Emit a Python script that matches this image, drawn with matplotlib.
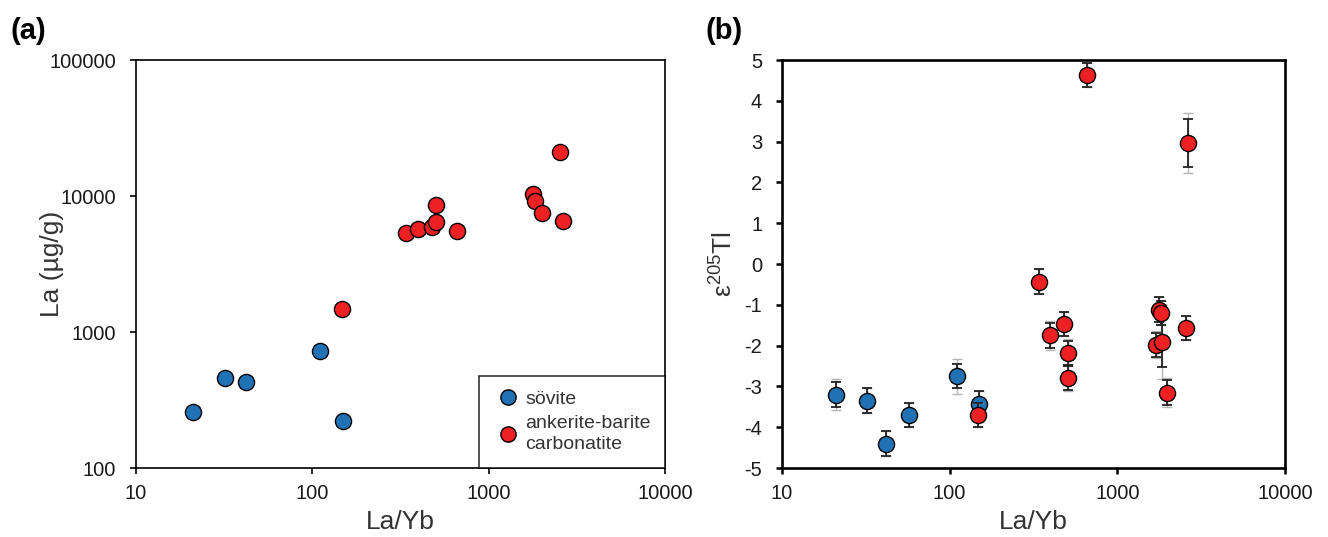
import matplotlib
matplotlib.use("Agg")
import matplotlib.pyplot as plt
from matplotlib.lines import Line2D

plt.rcParams['font.family'] = ['Liberation Sans', 'DejaVu Sans']
plt.rcParams['axes.unicode_minus'] = False
plt.rcParams['mathtext.fontset'] = 'custom'
plt.rcParams['mathtext.rm'] = 'Liberation Sans'
plt.rcParams['mathtext.default'] = 'regular'

BLUE = '#2171b5'
RED = '#ed2024'

# ---- Panel (a) data ----
a_sov_layb = [21, 32, 42, 110, 150]
a_sov_la = [260, 458, 428, 720, 220]
a_ank_layb = [148, 340, 395, 475, 500, 500, 660, 1780, 1840, 2000, 2550, 2650]
a_ank_la = [1480, 5350, 5750, 5900, 6400, 8600, 5550, 10300, 9200, 7500, 21000, 6500]

# ---- Panel (b) data ----
b_sov_layb = [21, 32, 42, 57, 110, 150]
b_sov_eps = [-3.20, -3.35, -4.40, -3.70, -2.75, -3.42]
b_sov_err = [0.30, 0.30, 0.30, 0.30, 0.30, 0.30]
b_sov_err2 = [0.37, 0.30, 0.30, 0.30, 0.43, 0.30]

b_ank_layb = [148, 340, 397, 479, 507, 507, 662, 1700, 1775, 1810, 1845, 1982, 2553, 2630]
b_ank_eps = [-3.70, -0.43, -1.75, -1.47, -2.18, -2.79, 4.63, -1.98, -1.12, -1.20, -1.91, -3.15, -1.57, 2.96]
b_ank_err = [0.30, 0.31, 0.30, 0.30, 0.30, 0.30, 0.30, 0.30, 0.30, 0.30, 0.62, 0.30, 0.30, 0.59]
b_ank_err2 = [0.30, 0.31, 0.35, 0.30, 0.33, 0.33, 0.30, 0.33, 0.30, 0.30, 0.92, 0.35, 0.30, 0.73]

x_ticks = [10, 100, 1000, 10000]
x_ticklabels = ['10', '100', '1000', '10000']
a_y_ticks = [100, 1000, 10000, 100000]
a_y_ticklabels = ['100', '1000', '10000', '100000']
b_y_ticks = list(range(-5, 6))

fig = plt.figure(figsize=(13.28, 5.37), dpi=100)
axa = fig.add_axes([136/1328, 69/537, 529/1328, 408/537])
axb = fig.add_axes([782/1328, 69/537, 503/1328, 408/537])

MS = 135
TICKFS = 14.5
LABFS = 19


def style_ticks(ax, width):
    ax.tick_params(axis='both', direction='out', length=4.3, width=width,
                   labelsize=TICKFS, labelcolor='#1a1a1a')
    ax.tick_params(axis='x', pad=7.5)
    ax.tick_params(axis='y', pad=10)


# Panel a
axa.scatter(a_sov_layb, a_sov_la, s=MS, c=BLUE, edgecolors='black', linewidths=1.0, zorder=3)
axa.scatter(a_ank_layb, a_ank_la, s=MS, c=RED, edgecolors='black', linewidths=1.0, zorder=4)
axa.set_xscale('log')
axa.set_yscale('log')
axa.set_xlim(10, 10000)
axa.set_ylim(100, 100000)
axa.set_xticks(x_ticks)
axa.set_xticklabels(x_ticklabels)
axa.set_yticks(a_y_ticks)
axa.set_yticklabels(a_y_ticklabels)
axa.minorticks_off()
axa.set_xlabel('La/Yb', fontsize=LABFS, color='#333333', labelpad=5)
axa.set_ylabel('La (µg/g)', fontsize=LABFS, color='#333333')
axa.yaxis.set_label_coords(-0.137, 0.5)
for sp in axa.spines.values():
    sp.set_linewidth(1.2)
style_ticks(axa, 1.2)

handles = [Line2D([], [], marker='o', ls='none', markersize=11, markerfacecolor=BLUE, markeredgecolor='black', markeredgewidth=1.0),
           Line2D([], [], marker='o', ls='none', markersize=11, markerfacecolor=RED, markeredgecolor='black', markeredgewidth=1.0)]
leg = axa.legend(handles, ['sövite', 'ankerite-barite\ncarbonatite'], loc='lower right',
                 bbox_to_anchor=(1.0, 0.0), borderaxespad=0, fontsize=14, frameon=True,
                 fancybox=False, edgecolor='black', handletextpad=0.12, borderpad=0.75,
                 labelspacing=0.35, handlelength=1.5)
leg.get_frame().set_linewidth(1.2)
for t in leg.get_texts():
    t.set_color('#333333')
    t.set_linespacing(1.35)

# Panel b
axb.errorbar(b_sov_layb, b_sov_eps, yerr=b_sov_err2, fmt='none', ecolor='#b5b5b5', elinewidth=1.0, capsize=3.5, capthick=1.0, zorder=1)
axb.errorbar(b_sov_layb, b_sov_eps, yerr=b_sov_err, fmt='none', ecolor='#222222', elinewidth=1.3, capsize=3.5, capthick=1.3, zorder=2)
axb.scatter(b_sov_layb, b_sov_eps, s=MS, c=BLUE, edgecolors='black', linewidths=1.0, zorder=3)
axb.errorbar(b_ank_layb, b_ank_eps, yerr=b_ank_err2, fmt='none', ecolor='#b5b5b5', elinewidth=1.0, capsize=3.5, capthick=1.0, zorder=3.5)
axb.errorbar(b_ank_layb, b_ank_eps, yerr=b_ank_err, fmt='none', ecolor='#222222', elinewidth=1.3, capsize=3.5, capthick=1.3, zorder=4)
axb.scatter(b_ank_layb, b_ank_eps, s=MS, c=RED, edgecolors='black', linewidths=1.0, zorder=5)
axb.set_xscale('log')
axb.set_xlim(10, 10000)
axb.set_ylim(-5, 5)
axb.set_xticks(x_ticks)
axb.set_xticklabels(x_ticklabels)
axb.set_yticks(b_y_ticks)
axb.minorticks_off()
axb.set_xlabel('La/Yb', fontsize=LABFS, color='#333333', labelpad=5)
axb.set_ylabel('ε$^{205}$Tl', fontsize=LABFS, color='#333333')
axb.yaxis.set_label_coords(-0.088, 0.5)
for sp in axb.spines.values():
    sp.set_linewidth(1.9)
style_ticks(axb, 1.8)

fig.text(10/1328, 1 - 31/537, '(a)', fontsize=21, fontweight='bold', va='center', ha='left')
fig.text(705/1328, 1 - 31/537, '(b)', fontsize=21, fontweight='bold', va='center', ha='left')

fig.savefig('out.png', dpi=100)
